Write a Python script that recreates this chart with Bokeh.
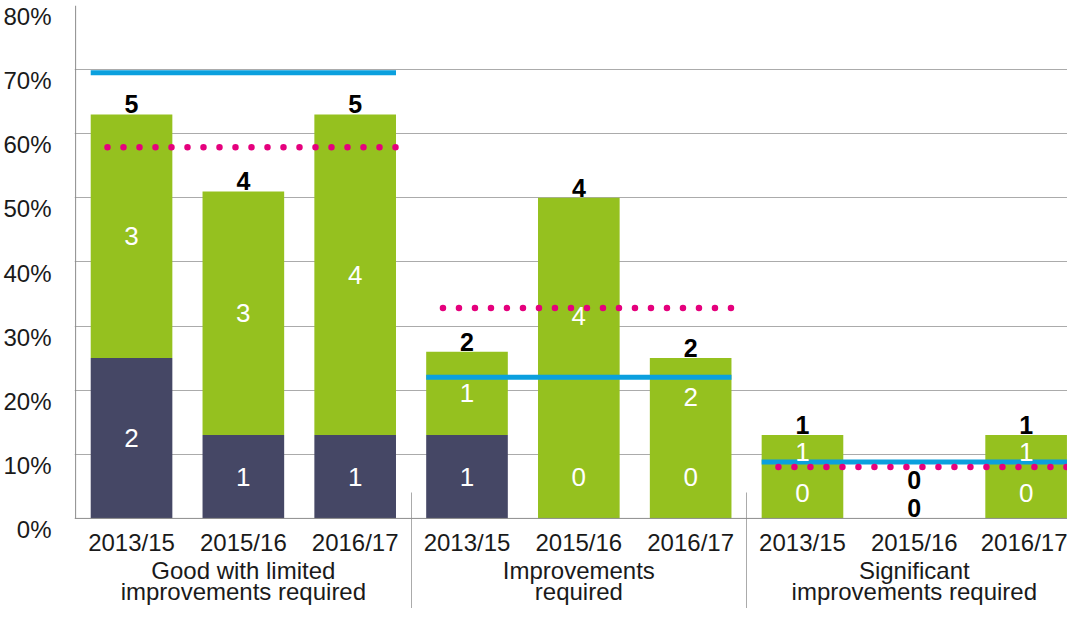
from bokeh.plotting import figure
from bokeh.models import ColumnDataSource, Range1d, FixedTicker, LinearAxis, Grid, Span
from bokeh.core.properties import value
from bokeh.embed import file_html
from bokeh.resources import INLINE

# ---------------- data ----------------
groups = ["Good with limited\nimprovements required", "Improvements\nrequired",
          "Significant\nimprovements required"]
years = ["2013/15", "2015/16", "2016/17"]
dark_pct = [25, 13, 13, 13, 0, 0, 0, 0, 0]
total_pct = [63, 51, 63, 26, 50, 25, 13, 0, 13]
dark_count = [2, 1, 1, 1, 0, 0, 0, 0, 0]
green_count = [3, 3, 4, 1, 4, 2, 1, 0, 1]
total_count = [5, 4, 5, 2, 4, 2, 1, 0, 1]
blue_avg = [69.5, 22.0, 8.8]
pink_avg = [57.9, 32.8, 8.0]
y_ticks = [0, 10, 20, 30, 40, 50, 60, 70, 80]

# ---------------- style ----------------
FONT_NAME = "Liberation Sans"
FONT = value(FONT_NAME)
GREEN = "#95C11F"
NAVY = "#454765"
BLUE = "#0BA0DE"
PINK = "#E5007D"
GRID = "#ABABAB"
AXIS = "#8C8C8C"
TXT = "#1A1A1A"
SHIFT = 1.73  # label offset below gridlines, in % units

n = len(total_pct)
xs = [2 * i + 1 for i in range(n)]
bar_w = 1.46
half = bar_w / 2

p = figure(width=1067, height=608, x_range=Range1d(-0.02, 17.74), y_range=Range1d(-SHIFT, 80),
           x_axis_type=None, y_axis_type=None, output_backend="svg", toolbar_location=None,
           min_border_left=66, min_border_right=0, min_border_top=5, min_border_bottom=0,
           outline_line_color=None, title=None)
p.background_fill_color = "white"
p.border_fill_color = "white"

p.add_layout(Grid(dimension=1, ticker=FixedTicker(ticks=y_ticks[1:]),
                  grid_line_color=GRID, grid_line_width=1))
# axis lines at 0
p.add_layout(Span(location=0, dimension="width", line_color=AXIS, line_width=1))
p.segment(x0=[0], x1=[0], y0=[y_ticks[0]], y1=[y_ticks[-1]], line_color=AXIS, line_width=1)

# label axis on a range that starts at the frame bottom
p.extra_y_ranges = {"ylab": Range1d(0, 80 + SHIFT)}
ylab = LinearAxis(y_range_name="ylab", ticker=FixedTicker(ticks=y_ticks),
                  major_label_overrides={t: f"{t}%" for t in y_ticks},
                  axis_line_color=None, major_tick_line_color=None, minor_tick_line_color=None,
                  major_label_standoff=17, major_label_text_font=FONT_NAME,
                  major_label_text_font_size="24px", major_label_text_color=TXT)
p.add_layout(ylab, "left")

# bars
src = ColumnDataSource(dict(x=xs, dark=dark_pct, total=total_pct))
p.vbar(x="x", width=bar_w, bottom=0, top="dark", source=src, fill_color=NAVY, line_color=None)
p.vbar(x="x", width=bar_w, bottom="dark", top="total", source=src, fill_color=GREEN, line_color=None)

# average lines
gx0 = [6 * g + 1 - half for g in range(3)]
gx1 = [6 * g + 5 + half for g in range(3)]
p.segment(x0=gx0, x1=gx1, y0=blue_avg, y1=blue_avg, line_color=BLUE, line_width=5)
p.segment(x0=[a + 0.3 for a in gx0], x1=gx1, y0=pink_avg, y1=pink_avg, line_color=PINK,
          line_width=6.5, line_dash="0 16", line_cap="round")

# labels inside bars
lower = [d if d > 0 else min(13, 0.6 * t) for d, t in zip(dark_pct, total_pct)]
inside = [i for i in range(n) if total_pct[i] > 0]
in_src = ColumnDataSource(dict(
    x=[xs[i] for i in inside] * 2,
    y=[lower[i] / 2 for i in inside] + [(lower[i] + total_pct[i]) / 2 for i in inside],
    t=[str(dark_count[i]) for i in inside] + [str(green_count[i]) for i in inside]))
p.text(x="x", y="y", text="t", source=in_src, text_color="white", text_font=FONT,
       text_font_size="26px", text_align="center", text_baseline="middle")

# totals above bars
top_src = ColumnDataSource(dict(x=xs, y=total_pct, t=[str(c) for c in total_count]))
p.text(x="x", y="y", text="t", source=top_src, text_color="black", text_font=FONT,
       text_font_size="25px", text_font_style="bold", text_align="center",
       text_baseline="bottom", y_offset=-1)
empty = [i for i in range(n) if total_pct[i] == 0]
emp_src = ColumnDataSource(dict(x=[xs[i] for i in empty], y=[total_pct[i] for i in empty],
                                t=[str(green_count[i]) for i in empty]))
p.text(x="x", y="y", text="t", source=emp_src, text_color="black", text_font=FONT,
       text_font_size="25px", text_font_style="bold", text_align="center",
       text_baseline="bottom", y_offset=-29)

# x axes (the year axis also draws the group separators as long minor ticks)
yr_axis = LinearAxis(ticker=FixedTicker(ticks=xs, minor_ticks=[6, 12]),
                     major_label_overrides={x: years[i % 3] for i, x in enumerate(xs)},
                     axis_line_color=None, major_tick_line_color=None,
                     minor_tick_line_color=GRID, minor_tick_in=37, minor_tick_out=90,
                     major_label_standoff=-91, major_label_text_font=FONT_NAME,
                     major_label_text_font_size="24px", major_label_text_color=TXT)
p.add_layout(yr_axis, "below")
grp_ticks = [3, 9, 15]
grp_axis = LinearAxis(ticker=FixedTicker(ticks=grp_ticks),
                      major_label_overrides={x: groups[i] for i, x in enumerate(grp_ticks)},
                      axis_line_color=None, major_tick_line_color=None, minor_tick_line_color=None,
                      major_label_standoff=-8, major_label_text_font=FONT_NAME,
                      major_label_text_line_height=0.8,
                      major_label_text_font_size="24px", major_label_text_color=TXT)
p.add_layout(grp_axis, "below")

open("out.html", "w").write(file_html(p, INLINE))
